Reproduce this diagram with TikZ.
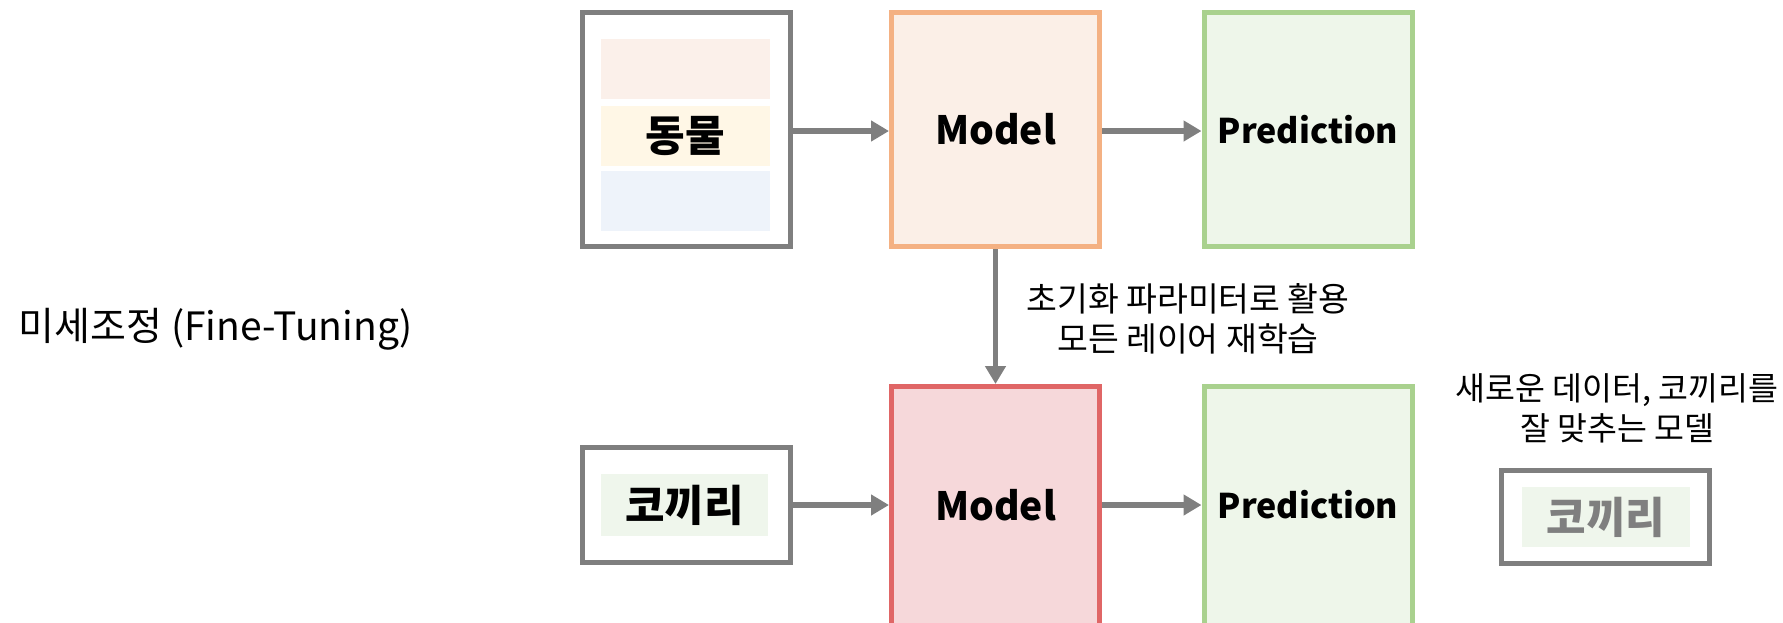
\documentclass[tikz,border=0pt]{standalone}
\usepackage{fontspec}
\setmainfont{Noto Sans CJK KR}
\usetikzlibrary{arrows.meta}
\definecolor{lgray}{HTML}{7F7F7F}
\definecolor{orb}{HTML}{F4B183}
\definecolor{orf}{HTML}{FBEFE7}
\definecolor{grb}{HTML}{A9D18E}
\definecolor{grf}{HTML}{EEF6EA}
\definecolor{rdb}{HTML}{E06666}
\definecolor{rdf}{HTML}{F6D8DA}
\definecolor{st1}{HTML}{FBF0EA}
\definecolor{st2}{HTML}{FFF7E6}
\definecolor{st3}{HTML}{EEF3FA}
\definecolor{inn}{HTML}{EFF6EC}
\tikzset{
  box/.style={draw, line width=5pt, minimum width=208pt, inner sep=0pt},
  graybox/.style={box, draw=lgray, fill=white},
  stripe/.style={draw=none, inner sep=0pt, minimum width=169pt, minimum height=60pt},
  arr/.style={draw=lgray, line width=5.5pt, -{Triangle[length=18pt,width=20pt]}},
  big/.style={font=\fontsize{39}{46}\selectfont\bfseries},
  kor/.style={font=\fontsize{43}{50}\selectfont\bfseries},
  pred/.style={font=\fontsize{34}{42}\selectfont\bfseries},
  lbl/.style={font=\fontsize{33.5}{40}\selectfont, align=center},
}
\begin{document}
\begin{tikzpicture}[x=1pt,y=-1pt]
\useasboundingbox (0,0) rectangle (1783,622);
\clip (0,0) rectangle (1783,622);
% top row
\node[graybox, minimum height=234pt] (it) at (686,129.5) {};
\node[stripe, fill=st1] (s1) at (685.5,68.5) {};
\node[stripe, fill=st2, kor] (s2) at (685.5,136) {동물};
\node[stripe, fill=st3] (s3) at (685.5,201) {};
\node[box, draw=orb, fill=orf, minimum height=234pt, big] (mt) at (995.5,129.5) {Model};
\node[box, draw=grb, fill=grf, minimum height=234pt, pred] (pt) at (1308,129.5) {Prediction};
% bottom row
\node[box, draw=rdb, fill=rdf, minimum height=250pt] (mb) at (995.5,511.5) {};
\node[big] (mbl) at (mb.center |- 0,505) {Model};
\node[box, draw=grb, fill=grf, minimum height=250pt] (pb) at (1308,511.5) {};
\node[pred] (pbl) at (pb.center |- 0,505) {Prediction};
\node[graybox, minimum height=115pt] (ib) at (686.5,505) {};
\node[stripe, fill=inn, minimum width=167pt, minimum height=62pt, kor] (ibt) at (684.5,505) {코끼리};
% arrows
\draw[arr] (it.east |- 0,131) -- (mt.west |- 0,131);
\draw[arr] (mt.east |- 0,131) -- (pt.west |- 0,131);
\draw[arr] (mt.south) -- (mb.north);
\draw[arr] (ib.east) -- (ib.east -| mb.west);
\draw[arr] (ib.east -| mb.east) -- (ib.east -| pb.west);
% labels
\node[lbl] (vl) at (1188,319) {초기화 파라미터로 활용\\모든 레이어 재학습};
\node[lbl, font=\fontsize{32.5}{40}\selectfont] (rl) at (1617,408) {새로운 데이터, 코끼리를\\잘 맞추는 모델};
\node[graybox, minimum height=93pt] (ob) at (1605.5,517) {};
\node[stripe, fill=inn, minimum width=168pt, minimum height=60pt, kor, text=lgray] (obt) at (1606,517) {코끼리};
\node[font=\fontsize{39}{46}\selectfont] (title) at (216,329) {미세조정 (Fine-Tuning)};
\end{tikzpicture}
\end{document}
